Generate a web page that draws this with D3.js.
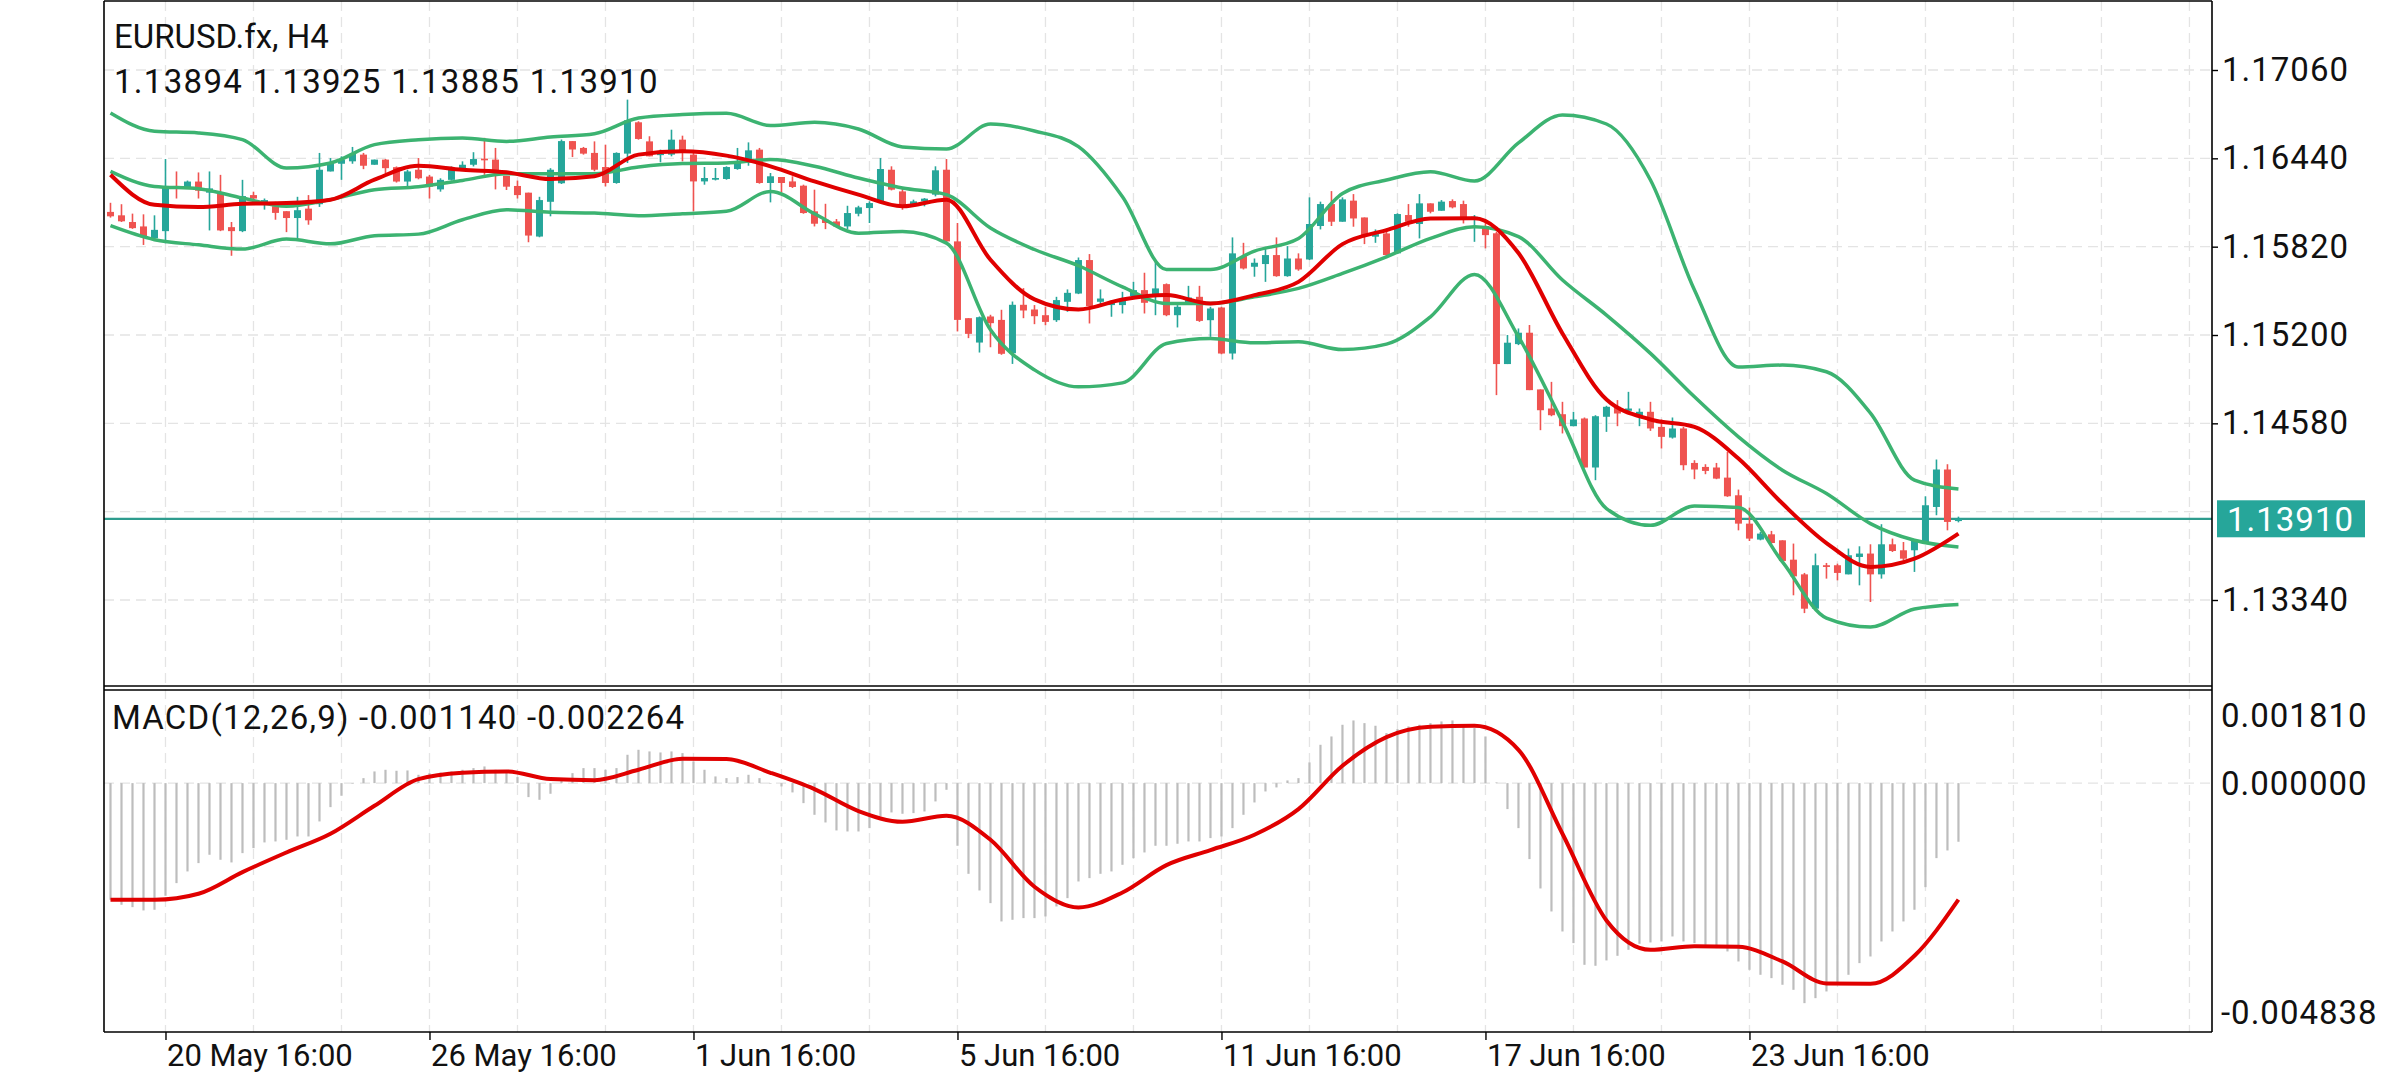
<!DOCTYPE html>
<html>
<head>
<meta charset="utf-8">
<script src="https://d3js.org/d3.v7.min.js"></script>
<style>
  body { margin: 0; background: #fff; }
  svg text { font-family: Roboto, "Noto Sans", sans-serif; }
</style>
</head>
<body>
<svg id="chart" width="2392" height="1080"></svg>
<script>
var symbolLabel = "EURUSD.fx, H4";
var ohlcLabel = "1.13894 1.13925 1.13885 1.13910";
var macdLabel = "MACD(12,26,9) -0.001140 -0.002264";

var tickIndex = [5, 29, 53, 77, 101, 125, 149];
var tickLabels = ["20 May 16:00", "26 May 16:00", "1 Jun 16:00", "5 Jun 16:00",
                  "11 Jun 16:00", "17 Jun 16:00", "23 Jun 16:00"];
var gridIndex = [5, 13, 21, 29, 37, 45, 53, 61, 69, 77, 85, 93, 101, 109, 117, 125,
                 133, 141, 149, 157, 165, 173, 181, 189];

var priceTicks = [1.17060, 1.16440, 1.15820, 1.15200, 1.14580, 1.13960, 1.13340];
var priceLabels = [1.17060, 1.16440, 1.15820, 1.15200, 1.14580, 1.13340];
var macdTicks = [0.001810, 0.000000, -0.004838];
var lastPrice = 1.13910;

// H4 candles, oldest first
var open = [1.16064,1.16040,1.15993,1.15962,1.15879,1.15929,1.16246,1.16237,1.16277,1.16199,
1.16199,1.15957,1.15929,1.16182,1.16128,1.16104,1.16069,1.16021,1.16087,1.16118,
1.16348,1.16402,1.16419,1.16466,1.16395,1.16431,1.16378,1.16277,1.16360,1.16312,
1.16222,1.16289,1.16360,1.16395,1.16438,1.16431,1.16317,1.16246,1.16199,1.15891,
1.16135,1.16265,1.16561,1.16513,1.16478,1.16379,1.16267,1.16473,1.16693,1.16559,
1.16463,1.16466,1.16571,1.16466,1.16278,1.16290,1.16295,1.16365,1.16435,1.16501,
1.16267,1.16309,1.16278,1.16248,1.16068,1.16009,1.15997,1.15962,1.16051,1.16091,
1.16138,1.16360,1.16208,1.16110,1.16138,1.16185,1.16360,1.15857,1.15318,1.15147,
1.15330,1.15306,1.15072,1.15412,1.15379,1.15339,1.15304,1.15433,1.15491,1.15726,
1.15433,1.15410,1.15410,1.15473,1.15515,1.15480,1.15557,1.15339,1.15426,1.15468,
1.15304,1.15393,1.15070,1.15754,1.15679,1.15698,1.15761,1.15613,1.15737,1.15730,
1.15965,1.16119,1.15995,1.16143,1.16025,1.15890,1.15913,1.15773,1.16042,1.15979,
1.16124,1.16072,1.16140,1.16119,1.16011,1.15965,1.15914,1.14996,1.15136,1.15216,
1.14818,1.14684,1.14644,1.14560,1.14614,1.14270,1.14626,1.14696,1.14668,1.14626,
1.14661,1.14555,1.14480,1.14544,1.14302,1.14274,1.14270,1.14199,1.14075,1.13876,
1.13764,1.13801,1.13759,1.13623,1.13520,1.13279,1.13584,1.13584,1.13520,1.13642,
1.13666,1.13520,1.13731,1.13689,1.13689,1.13747,1.13993,1.14256,1.13894];
var high = [1.16128,1.16118,1.16052,1.16047,1.16040,1.16435,1.16348,1.16284,1.16341,1.16348,
1.16324,1.15993,1.16289,1.16206,1.16158,1.16135,1.16069,1.16170,1.16182,1.16478,
1.16442,1.16454,1.16520,1.16478,1.16431,1.16435,1.16383,1.16360,1.16442,1.16324,
1.16300,1.16383,1.16419,1.16483,1.16584,1.16513,1.16317,1.16284,1.16199,1.16170,
1.16371,1.16572,1.16561,1.16520,1.16559,1.16536,1.16482,1.16852,1.16700,1.16595,
1.16501,1.16641,1.16599,1.16478,1.16379,1.16372,1.16384,1.16513,1.16552,1.16513,
1.16337,1.16309,1.16314,1.16255,1.16220,1.16121,1.16014,1.16107,1.16107,1.16138,
1.16442,1.16384,1.16232,1.16150,1.16161,1.16384,1.16435,1.15986,1.15318,1.15330,
1.15342,1.15377,1.15435,1.15529,1.15410,1.15398,1.15468,1.15520,1.15744,1.15768,
1.15520,1.15445,1.15503,1.15573,1.15637,1.15714,1.15562,1.15410,1.15545,1.15545,
1.15398,1.15398,1.15885,1.15847,1.15737,1.15808,1.15885,1.15824,1.15773,1.16166,
1.16136,1.16210,1.16166,1.16189,1.16025,1.15941,1.15936,1.16054,1.16119,1.16189,
1.16124,1.16147,1.16152,1.16143,1.16042,1.15995,1.15925,1.15200,1.15246,1.15270,
1.14818,1.14871,1.14731,1.14661,1.14621,1.14637,1.14703,1.14743,1.14801,1.14684,
1.14731,1.14607,1.14621,1.14555,1.14321,1.14293,1.14302,1.14380,1.14115,1.13989,
1.13818,1.13825,1.13759,1.13736,1.13530,1.13666,1.13600,1.13595,1.13701,1.13717,
1.13731,1.13872,1.13771,1.13747,1.13764,1.14068,1.14326,1.14293,1.13925];
var low = [1.16024,1.15993,1.15945,1.15832,1.15867,1.15844,1.16158,1.16229,1.16158,1.15934,
1.15929,1.15756,1.15922,1.16147,1.16080,1.16009,1.15922,1.15875,1.15974,1.16099,
1.16348,1.16289,1.16402,1.16364,1.16395,1.16336,1.16270,1.16237,1.16293,1.16158,
1.16206,1.16284,1.16355,1.16383,1.16324,1.16222,1.16218,1.16158,1.15851,1.15886,
1.16033,1.16260,1.16449,1.16466,1.16349,1.16243,1.16262,1.16407,1.16571,1.16454,
1.16412,1.16454,1.16419,1.16068,1.16255,1.16285,1.16290,1.16360,1.16388,1.16262,
1.16131,1.16201,1.16232,1.16051,1.15962,1.15943,1.15958,1.15943,1.16033,1.15986,
1.16126,1.16215,1.16079,1.16103,1.16103,1.16173,1.15850,1.15225,1.15178,1.15077,
1.15114,1.15061,1.14997,1.15318,1.15276,1.15269,1.15292,1.15363,1.15487,1.15281,
1.15410,1.15328,1.15351,1.15473,1.15351,1.15339,1.15332,1.15253,1.15421,1.15292,
1.15187,1.15065,1.15028,1.15660,1.15609,1.15573,1.15609,1.15609,1.15651,1.15726,
1.15941,1.15965,1.15995,1.15960,1.15838,1.15847,1.15749,1.15768,1.15960,1.15878,
1.16054,1.16072,1.16089,1.15983,1.15854,1.15808,1.14778,1.14996,1.15129,1.14813,
1.14532,1.14630,1.14509,1.14560,1.14270,1.14181,1.14520,1.14560,1.14661,1.14560,
1.14527,1.14403,1.14473,1.14251,1.14188,1.14223,1.14188,1.14064,1.13829,1.13754,
1.13759,1.13736,1.13607,1.13373,1.13248,1.13272,1.13490,1.13478,1.13520,1.13443,
1.13326,1.13490,1.13677,1.13619,1.13537,1.13736,1.13935,1.13829,1.13885];
var close = [1.16033,1.15998,1.15950,1.15886,1.15938,1.16241,1.16229,1.16277,1.16213,1.16229,
1.15934,1.15929,1.16175,1.16158,1.16147,1.16057,1.16021,1.16076,1.16005,1.16360,
1.16407,1.16431,1.16471,1.16388,1.16431,1.16371,1.16277,1.16348,1.16300,1.16241,
1.16289,1.16371,1.16395,1.16435,1.16426,1.16336,1.16241,1.16182,1.15898,1.16147,
1.16360,1.16561,1.16502,1.16473,1.16360,1.16267,1.16478,1.16707,1.16576,1.16454,
1.16473,1.16571,1.16478,1.16278,1.16302,1.16302,1.16379,1.16407,1.16496,1.16267,
1.16314,1.16267,1.16239,1.16056,1.15981,1.15986,1.15962,1.16056,1.16096,1.16126,
1.16365,1.16220,1.16107,1.16138,1.16157,1.16356,1.15857,1.15306,1.15208,1.15325,
1.15283,1.15068,1.15412,1.15372,1.15332,1.15292,1.15445,1.15496,1.15726,1.15403,
1.15456,1.15433,1.15445,1.15515,1.15426,1.15527,1.15339,1.15398,1.15463,1.15299,
1.15386,1.15070,1.15773,1.15667,1.15707,1.15761,1.15613,1.15737,1.15660,1.15979,
1.16119,1.15995,1.16152,1.16018,1.15901,1.15908,1.15761,1.16049,1.15995,1.16124,
1.16065,1.16136,1.16096,1.16018,1.16030,1.15901,1.14996,1.15146,1.15216,1.14813,
1.14672,1.14637,1.14560,1.14607,1.14270,1.14630,1.14696,1.14649,1.14684,1.14661,
1.14544,1.14485,1.14544,1.14286,1.14256,1.14246,1.14192,1.14068,1.13876,1.13771,
1.13806,1.13740,1.13614,1.13506,1.13279,1.13584,1.13572,1.13530,1.13654,1.13666,
1.13520,1.13731,1.13684,1.13630,1.13759,1.14005,1.14256,1.13888,1.13910];

// Bollinger bands and moving average, read every 4th candle
var lineIndex = [0,4,8,12,16,20,24,28,32,36,40,44,48,52,56,60,64,68,72,76,80,84,
                 88,92,96,100,104,108,112,116,120,124,128,132,136,140,144,148,152,156,160,164,168];
var upper = [1.16759,1.16630,1.16618,1.16571,1.16372,1.16407,1.16536,1.16571,1.16583,1.16559,
1.16590,1.16613,1.16723,1.16747,1.16756,1.16670,1.16693,1.16646,1.16520,1.16506,
1.16681,1.16632,1.16522,1.16171,1.15660,1.15660,1.15789,1.15878,1.16194,1.16288,
1.16346,1.16281,1.16548,1.16744,1.16681,1.16288,1.15516,1.14975,1.14989,1.14942,
1.14652,1.14182,1.14119];
var middle = [1.16349,1.16243,1.16227,1.16161,1.16103,1.16150,1.16220,1.16241,1.16285,1.16332,
1.16332,1.16332,1.16379,1.16403,1.16407,1.16431,1.16384,1.16302,1.16232,1.16185,
1.15951,1.15800,1.15686,1.15538,1.15421,1.15421,1.15468,1.15527,1.15632,1.15749,
1.15878,1.15960,1.15890,1.15586,1.15340,1.15071,1.14766,1.14485,1.14251,1.14087,
1.13876,1.13759,1.13712];
var lower = [1.15967,1.15869,1.15833,1.15803,1.15873,1.15840,1.15897,1.15908,1.16009,1.16079,
1.16061,1.16056,1.16037,1.16051,1.16068,1.16208,1.16051,1.15915,1.15927,1.15845,
1.15236,1.14955,1.14836,1.14864,1.15140,1.15175,1.15145,1.15152,1.15098,1.15136,
1.15328,1.15625,1.15188,1.14590,1.13982,1.13864,1.14000,1.13989,1.13607,1.13213,
1.13150,1.13277,1.13309];
var ma = [1.16325,1.16114,1.16098,1.16121,1.16126,1.16150,1.16290,1.16388,1.16360,1.16342,
1.16295,1.16314,1.16466,1.16489,1.16459,1.16384,1.16278,1.16185,1.16103,1.16150,
1.15728,1.15450,1.15379,1.15449,1.15480,1.15421,1.15480,1.15573,1.15838,1.15936,
1.16018,1.16020,1.15775,1.15211,1.14747,1.14607,1.14555,1.14333,1.14017,1.13740,
1.13572,1.13630,1.13806];

// MACD main (histogram) per candle, signal every 4th candle
var macd = [-0.002268,-0.002365,-0.002411,-0.002475,-0.002462,-0.002190,-0.001944,-0.001717,-0.001555,-0.001393,
-0.001490,-0.001542,-0.001361,-0.001264,-0.001153,-0.001134,-0.001102,-0.001037,-0.001037,-0.000745,
-0.000467,-0.000246,-0.000010,0.000097,0.000227,0.000259,0.000240,0.000246,0.000162,0.000194,
0.000207,0.000227,0.000259,0.000292,0.000324,0.000259,0.000227,0.000117,-0.000272,-0.000324,
-0.000207,0.000097,0.000194,0.000292,0.000292,0.000259,0.000292,0.000551,0.000648,0.000616,
0.000596,0.000616,0.000583,0.000421,0.000259,0.000130,0.000097,0.000117,0.000162,0.000097,
-0.000010,-0.000065,-0.000181,-0.000389,-0.000616,-0.000765,-0.000920,-0.000940,-0.000940,-0.000875,
-0.000648,-0.000570,-0.000596,-0.000583,-0.000551,-0.000356,-0.000130,-0.001218,-0.001763,-0.002087,
-0.002333,-0.002689,-0.002657,-0.002624,-0.002624,-0.002592,-0.002398,-0.002236,-0.001912,-0.001847,
-0.001763,-0.001717,-0.001588,-0.001458,-0.001348,-0.001218,-0.001218,-0.001179,-0.001134,-0.001134,
-0.001069,-0.001037,-0.000875,-0.000616,-0.000376,-0.000162,-0.000084,0.000052,0.000097,0.000402,
0.000745,0.000907,0.001134,0.001218,0.001166,0.001115,0.000972,0.001050,0.001102,0.001134,
0.001166,0.001199,0.001218,0.001102,0.001069,0.000907,0.000013,-0.000505,-0.000875,-0.001477,
-0.002048,-0.002495,-0.002884,-0.003110,-0.003532,-0.003551,-0.003447,-0.003357,-0.003240,-0.003123,
-0.003097,-0.003078,-0.002981,-0.003078,-0.003110,-0.003143,-0.003208,-0.003272,-0.003467,-0.003629,
-0.003726,-0.003791,-0.003920,-0.004018,-0.004277,-0.004180,-0.004050,-0.003888,-0.003726,-0.003499,
-0.003370,-0.003078,-0.002884,-0.002689,-0.002462,-0.002022,-0.001458,-0.001309,-0.001140];
var signal = [-0.002268,-0.002268,-0.002151,-0.001730,-0.001348,-0.000985,-0.000441,0.000078,0.000201,0.000227,
0.000078,0.000058,0.000259,0.000473,0.000467,0.000201,-0.000117,-0.000544,-0.000752,-0.000635,
-0.001102,-0.002015,-0.002417,-0.002125,-0.001594,-0.001302,-0.001004,-0.000505,0.000337,0.000894,
0.001095,0.001115,0.000648,-0.000985,-0.002670,-0.003240,-0.003169,-0.003182,-0.003467,-0.003894,
-0.003901,-0.003357,-0.002264];

var upColor = "#26a69a", downColor = "#ef5350";
var bandColor = "#3cb371", maColor = "#e00000", gridColor = "#e4e4e4";

var svg = d3.select("#chart");
svg.append("rect").attr("width", 2392).attr("height", 1080).attr("fill", "#fff");

var left = 104, right = 2212, mainTop = 1, mainBottom = 686, macdTop = 690, macdBottom = 1032;

var x = d3.scaleLinear().domain([-0.59, 191.05]).range([left, right]);
var y = d3.scaleLinear().domain([1.13340, 1.17060]).range([600, 70]);
var ym = d3.scaleLinear().domain([-0.004838, 0.001810]).range([macdBottom, macdTop]);

var defs = svg.append("defs");
defs.append("clipPath").attr("id", "clipMain").append("rect")
  .attr("x", left).attr("y", mainTop).attr("width", right - left).attr("height", mainBottom - mainTop);
defs.append("clipPath").attr("id", "clipMacd").append("rect")
  .attr("x", left).attr("y", macdTop).attr("width", right - left).attr("height", macdBottom - macdTop);

// grid
var grid = svg.append("g").attr("stroke", gridColor).attr("stroke-width", 1.3).attr("stroke-dasharray", "10,6");
grid.selectAll(".vg").data(gridIndex).enter().append("line")
  .attr("x1", function(d) { return x(d); }).attr("x2", function(d) { return x(d); })
  .attr("y1", mainTop).attr("y2", macdBottom);
grid.selectAll(".hg").data(priceTicks).enter().append("line")
  .attr("x1", left).attr("x2", right)
  .attr("y1", function(d) { return y(d); }).attr("y2", function(d) { return y(d); });
grid.append("line").attr("x1", left).attr("x2", right).attr("y1", ym(0)).attr("y2", ym(0));

// main panel
var main = svg.append("g").attr("clip-path", "url(#clipMain)");

main.append("line")
  .attr("x1", left).attr("x2", right).attr("y1", y(lastPrice)).attr("y2", y(lastPrice))
  .attr("stroke", "#2e9c8e").attr("stroke-width", 2.2);

var candles = main.selectAll(".candle").data(open).enter().append("g");
candles.append("line")
  .attr("x1", function(d, i) { return x(i); }).attr("x2", function(d, i) { return x(i); })
  .attr("y1", function(d, i) { return y(high[i]); }).attr("y2", function(d, i) { return y(low[i]); })
  .attr("stroke", function(d, i) { return close[i] >= open[i] ? upColor : downColor; })
  .attr("stroke-width", 1.6);
candles.append("rect")
  .attr("x", function(d, i) { return x(i) - 3.5; })
  .attr("width", 7)
  .attr("y", function(d, i) { return y(Math.max(open[i], close[i])); })
  .attr("height", function(d, i) { return Math.max(1.5, Math.abs(y(open[i]) - y(close[i]))); })
  .attr("fill", function(d, i) { return close[i] >= open[i] ? upColor : downColor; });

var priceLine = d3.line()
  .x(function(d, i) { return x(lineIndex[i]); })
  .y(function(d) { return y(d); })
  .curve(d3.curveMonotoneX);

[upper, middle, lower].forEach(function(band) {
  main.append("path").attr("d", priceLine(band))
    .attr("fill", "none").attr("stroke", bandColor).attr("stroke-width", 3.5)
    .attr("stroke-linejoin", "round");
});
main.append("path").attr("d", priceLine(ma))
  .attr("fill", "none").attr("stroke", maColor).attr("stroke-width", 4)
  .attr("stroke-linejoin", "round");

// macd panel
var sub = svg.append("g").attr("clip-path", "url(#clipMacd)");
sub.selectAll(".bar").data(macd).enter().append("line")
  .attr("x1", function(d, i) { return x(i); }).attr("x2", function(d, i) { return x(i); })
  .attr("y1", ym(0)).attr("y2", function(d) { return ym(d); })
  .attr("stroke", "#bdbdbd").attr("stroke-width", 2.2);

var signalLine = d3.line()
  .x(function(d, i) { return x(lineIndex[i]); })
  .y(function(d) { return ym(d); })
  .curve(d3.curveMonotoneX);
sub.append("path").attr("d", signalLine(signal))
  .attr("fill", "none").attr("stroke", maColor).attr("stroke-width", 4)
  .attr("stroke-linejoin", "round");

// frame
var frame = svg.append("g").attr("stroke", "#000").attr("stroke-width", 1.6).attr("fill", "none");
frame.append("line").attr("x1", left).attr("x2", left).attr("y1", mainTop).attr("y2", macdBottom);
frame.append("line").attr("x1", right).attr("x2", right).attr("y1", mainTop).attr("y2", macdBottom);
frame.append("line").attr("x1", left).attr("x2", right).attr("y1", mainTop).attr("y2", mainTop);
frame.append("line").attr("x1", left).attr("x2", right).attr("y1", mainBottom).attr("y2", mainBottom);
frame.append("line").attr("x1", left).attr("x2", right).attr("y1", macdTop).attr("y2", macdTop);

// axes
var xAxis = d3.axisBottom(x).tickValues(tickIndex)
  .tickFormat(function(d, i) { return tickLabels[i]; })
  .tickSizeInner(8).tickSizeOuter(0);
var gx = svg.append("g").attr("transform", "translate(0," + macdBottom + ")").call(xAxis);
gx.select(".domain").attr("stroke", "#000").attr("stroke-width", 1.6).attr("d", "M" + left + ",0H" + right);
gx.selectAll(".tick line").attr("stroke", "#000").attr("stroke-width", 1.4);
gx.selectAll(".tick text")
  .attr("text-anchor", "start").attr("x", 1).attr("y", 12)
  .style("font-size", "31px").style("letter-spacing", "0px").attr("fill", "#111");

var yAxis = d3.axisRight(y).tickValues(priceLabels)
  .tickFormat(function(d) { return d.toFixed(5); }).tickSize(6);
var gy = svg.append("g").attr("transform", "translate(" + right + ",0)").call(yAxis);
gy.select(".domain").remove();
gy.selectAll(".tick line").attr("stroke", "#000").attr("stroke-width", 1.4);
gy.selectAll(".tick text").attr("x", 10)
  .style("font-size", "33px").style("letter-spacing", "1px").attr("fill", "#111");

var ymAxis = d3.axisRight(ym).tickValues(macdTicks)
  .tickFormat(function(d) { return d.toFixed(6); }).tickSize(0);
var gym = svg.append("g").attr("transform", "translate(" + right + ",0)").call(ymAxis);
gym.select(".domain").remove();
gym.selectAll(".tick text").attr("x", 9)
  .attr("dy", function(d) { return d > 0.001 ? "1.12em" : (d < -0.004 ? "-0.25em" : "0.35em"); })
  .style("font-size", "33px").style("letter-spacing", "1px").attr("fill", "#111");

// last price tag
var tagY = y(lastPrice);
svg.append("rect").attr("x", right + 5).attr("y", tagY - 18.5).attr("width", 148).attr("height", 37)
  .attr("fill", "#26a69a");
svg.append("text").attr("x", right + 15).attr("y", tagY + 12)
  .text(lastPrice.toFixed(5)).attr("fill", "#fff")
  .style("font-size", "33px").style("letter-spacing", "1px");

// headers
svg.append("text").attr("x", 114).attr("y", 48).text(symbolLabel)
  .attr("fill", "#111").style("font-size", "33px");
svg.append("text").attr("x", 114).attr("y", 93).text(ohlcLabel)
  .attr("fill", "#111").style("font-size", "33px").style("letter-spacing", "1.3px");
svg.append("text").attr("x", 112).attr("y", 729).text(macdLabel)
  .attr("fill", "#111").style("font-size", "33px").style("letter-spacing", "1.2px");
</script>
</body>
</html>
